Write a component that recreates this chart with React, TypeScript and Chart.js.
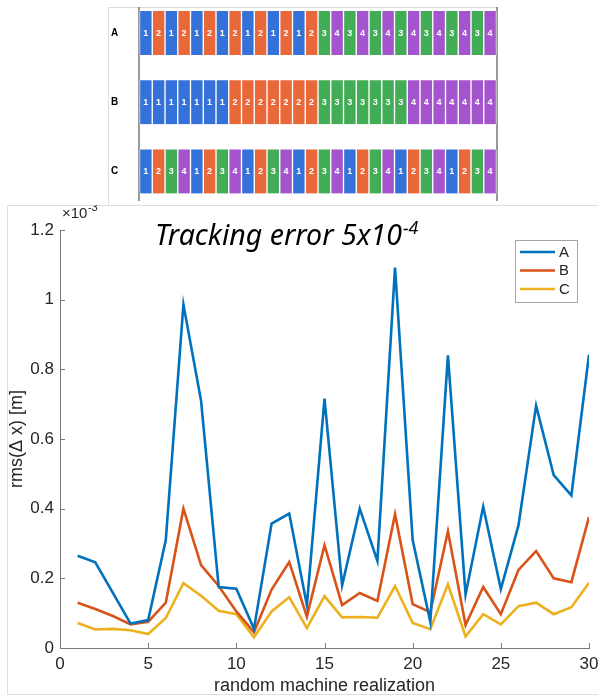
import React, { useEffect, useRef } from 'react';
import { Chart, registerables } from 'chart.js';

Chart.register(...registerables);

// ---------- top schematic data ----------
const rowLabels = ['A', 'B', 'C'];
const rowA = [1, 2, 1, 2, 1, 2, 1, 2, 1, 2, 1, 2, 1, 2, 3, 4, 3, 4, 3, 4, 3, 4, 3, 4, 3, 4, 3, 4];
const rowB = [1, 1, 1, 1, 1, 1, 1, 2, 2, 2, 2, 2, 2, 2, 3, 3, 3, 3, 3, 3, 3, 4, 4, 4, 4, 4, 4, 4];
const rowC = [1, 2, 3, 4, 1, 2, 3, 4, 1, 2, 3, 4, 1, 2, 3, 4, 1, 2, 3, 4, 1, 2, 3, 4, 1, 2, 3, 4];
const groupColors: Record<number, string> = { 1: '#3471d9', 2: '#e8683a', 3: '#43ac57', 4: '#a455cd' };

// ---------- line chart data ----------
const realization = [1, 2, 3, 4, 5, 6, 7, 8, 9, 10, 11, 12, 13, 14, 15, 16, 17, 18, 19, 20, 21, 22, 23, 24, 25, 26, 27, 28, 29, 30];
const seriesA = [0.265e-3, 0.246e-3, 0.158e-3, 0.070e-3, 0.080e-3, 0.310e-3, 0.986e-3, 0.710e-3, 0.175e-3, 0.170e-3, 0.055e-3, 0.357e-3, 0.386e-3, 0.123e-3, 0.716e-3, 0.180e-3, 0.400e-3, 0.250e-3, 1.092e-3, 0.310e-3, 0.075e-3, 0.840e-3, 0.153e-3, 0.406e-3, 0.169e-3, 0.352e-3, 0.696e-3, 0.496e-3, 0.438e-3, 0.842e-3];
const seriesB = [0.130e-3, 0.112e-3, 0.092e-3, 0.068e-3, 0.075e-3, 0.130e-3, 0.400e-3, 0.238e-3, 0.178e-3, 0.105e-3, 0.045e-3, 0.168e-3, 0.247e-3, 0.090e-3, 0.295e-3, 0.123e-3, 0.158e-3, 0.135e-3, 0.384e-3, 0.126e-3, 0.103e-3, 0.335e-3, 0.066e-3, 0.175e-3, 0.097e-3, 0.224e-3, 0.278e-3, 0.200e-3, 0.189e-3, 0.376e-3];
const seriesC = [0.072e-3, 0.053e-3, 0.055e-3, 0.051e-3, 0.040e-3, 0.086e-3, 0.186e-3, 0.150e-3, 0.107e-3, 0.097e-3, 0.031e-3, 0.105e-3, 0.146e-3, 0.057e-3, 0.149e-3, 0.088e-3, 0.089e-3, 0.087e-3, 0.178e-3, 0.072e-3, 0.054e-3, 0.183e-3, 0.033e-3, 0.097e-3, 0.068e-3, 0.120e-3, 0.130e-3, 0.097e-3, 0.117e-3, 0.187e-3];
const seriesLabels = ['A', 'B', 'C'];
const seriesColors = ['#0072BD', '#D95319', '#EDB120'];
const xTicks = { min: 0, max: 30, step: 5 };
const yTicks = { min: 0, max: 1.2e-3, step: 0.2e-3 };

const titleMain = 'Tracking error 5x10';
const titleSup = '-4';
const xTitle = 'random machine realization';
const yTitle = 'rms(\u0394 x) [m]';

const FONT = '"Liberation Sans", Arial, Helvetica, sans-serif';
const TXT = '#262626';
const AXIS = '#7a7a7a';

const TOP_OFFSET = -20;

export default function App() {
  const topRef = useRef<HTMLCanvasElement | null>(null);
  const botRef = useRef<HTMLCanvasElement | null>(null);

  useEffect(() => {
    const rows = [rowA, rowB, rowC];
    const topDatasets = rowA.map((_, i) => ({
      label: 'cell' + i,
      data: [1, 1, 1],
      backgroundColor: rows.map((r) => groupColors[r[i]]),
      borderColor: '#ffffff',
      borderWidth: { left: 1, right: 1, top: 0, bottom: 0 },
      borderSkipped: false as const,
      barThickness: 44,
    }));

    const cellLabelPlugin = {
      id: 'cellLabels',
      beforeDatasetsDraw(chart: any) {
        const { ctx, chartArea } = chart;
        ctx.save();
        ctx.strokeStyle = '#555555';
        ctx.lineWidth = 1.2;
        const y0 = 7 - TOP_OFFSET;
        const y1 = 201 - TOP_OFFSET;
        [chartArea.left - 0.5, chartArea.right + 0.5].forEach((x: number) => {
          ctx.beginPath();
          ctx.moveTo(x, y0);
          ctx.lineTo(x, y1);
          ctx.stroke();
        });
        ctx.restore();
      },
      afterDatasetsDraw(chart: any) {
        const { ctx } = chart;
        ctx.save();
        ctx.fillStyle = '#ffffff';
        ctx.font = `bold 9px ${FONT}`;
        ctx.textAlign = 'center';
        ctx.textBaseline = 'middle';
        chart.data.datasets.forEach((_: any, i: number) => {
          const meta = chart.getDatasetMeta(i);
          meta.data.forEach((el: any, j: number) => {
            const p = el.getProps(['x', 'y', 'base'], true);
            ctx.fillText(String(rows[j][i]), (p.x + p.base) / 2, p.y + 0.5);
          });
        });
        ctx.restore();
      },
    };

    const topChart = new Chart(topRef.current as HTMLCanvasElement, {
      type: 'bar',
      data: { labels: rowLabels, datasets: topDatasets as any },
      options: {
        indexAxis: 'y',
        animation: false,
        responsive: false,
        devicePixelRatio: 1,
        layout: { padding: { top: 18.5, bottom: 2, left: 111, right: 101.5 } },
        plugins: { legend: { display: false }, tooltip: { enabled: false }, title: { display: false } },
        scales: {
          x: { type: 'linear', stacked: true, min: 0, max: 28, display: false },
          y: {
            type: 'category',
            stacked: true,
            grid: { display: false, drawTicks: false },
            border: { display: false },
            ticks: { crossAlign: 'far', color: '#000000', font: { family: FONT, size: 10, weight: 'bold' }, padding: 0 },
            afterFit: (s: any) => { s.width = 28.5; },
          },
        },
      },
      plugins: [cellLabelPlugin],
    });

    // ---------- bottom line chart ----------
    const decorPlugin = {
      id: 'decor',
      afterDraw(chart: any) {
        const { ctx, chartArea, scales } = chart;
        const { x, y } = scales;
        ctx.save();
        // inward ticks
        ctx.strokeStyle = AXIS;
        ctx.lineWidth = 1;
        y.ticks.forEach((t: any) => {
          if (t.value === 0) return;
          const py = Math.round(y.getPixelForValue(t.value)) + 0.5;
          ctx.beginPath();
          ctx.moveTo(chartArea.left, py);
          ctx.lineTo(chartArea.left + 5, py);
          ctx.stroke();
        });
        x.ticks.forEach((t: any) => {
          if (t.value === 0) return;
          const px = Math.round(x.getPixelForValue(t.value)) + 0.5;
          ctx.beginPath();
          ctx.moveTo(px, chartArea.bottom);
          ctx.lineTo(px, chartArea.bottom - 5);
          ctx.stroke();
        });
        // exponent label
        ctx.fillStyle = TXT;
        ctx.textAlign = 'left';
        ctx.textBaseline = 'alphabetic';
        ctx.font = `15px ${FONT}`;
        const ex = chartArea.left + 2;
        const ey = chartArea.top - 12;
        ctx.fillText('\u00d710', ex, ey);
        const w10 = ctx.measureText('\u00d710').width;
        ctx.font = `11px ${FONT}`;
        ctx.fillText('-3', ex + w10 + 0.5, ey - 7);
        // title with superscript
        ctx.font = `italic 26px "Noto Sans", ${FONT}`;
        const tw = ctx.measureText(titleMain).width;
        const scale = 247 / tw;
        const fs = 26 * scale;
        ctx.font = `italic ${fs}px "Noto Sans", ${FONT}`;
        const tx = 155;
        const ty = 245 - 205;
        ctx.fillStyle = '#000000';
        ctx.fillText(titleMain, tx, ty);
        const tw2 = ctx.measureText(titleMain).width;
        ctx.font = `italic ${fs * 0.62}px "Noto Sans", ${FONT}`;
        ctx.fillText(titleSup, tx + tw2 + 1, ty - fs * 0.38);
        // legend
        const lx1 = chartArea.right - 74;
        const lx2 = chartArea.right - 12;
        const ly1 = chartArea.top + 10;
        const ly2 = ly1 + 62;
        ctx.fillStyle = '#ffffff';
        ctx.fillRect(lx1, ly1, lx2 - lx1, ly2 - ly1);
        ctx.strokeStyle = '#a6a6a6';
        ctx.lineWidth = 1;
        ctx.strokeRect(lx1 + 0.5, ly1 + 0.5, lx2 - lx1, ly2 - ly1);
        ctx.font = `15px ${FONT}`;
        ctx.textBaseline = 'middle';
        chart.data.datasets.forEach((ds: any, i: number) => {
          const yy = ly1 + 12 + i * 18.5;
          ctx.strokeStyle = ds.borderColor;
          ctx.lineWidth = 2.5;
          ctx.beginPath();
          ctx.moveTo(lx1 + 5, yy);
          ctx.lineTo(lx1 + 40, yy);
          ctx.stroke();
          ctx.fillStyle = TXT;
          ctx.fillText(ds.label, lx1 + 44, yy + 0.5);
        });
        ctx.restore();
      },
    };

    const mk = (vals: number[]) => realization.map((r, i) => ({ x: r, y: vals[i] }));
    const all = [seriesA, seriesB, seriesC];

    const botChart = new Chart(botRef.current as HTMLCanvasElement, {
      type: 'line',
      data: {
        datasets: all.map((vals, i) => ({
          label: seriesLabels[i],
          data: mk(vals),
          borderColor: seriesColors[i],
          backgroundColor: seriesColors[i],
          borderWidth: 2.6,
          pointRadius: 0,
          tension: 0,
          fill: false,
        })),
      },
      options: {
        animation: false,
        responsive: false,
        devicePixelRatio: 1,
        layout: { padding: { top: 25, right: 9, left: 0, bottom: 0 } },
        plugins: { legend: { display: false }, tooltip: { enabled: false }, title: { display: false } },
        scales: {
          x: {
            type: 'linear',
            min: xTicks.min,
            max: xTicks.max,
            ticks: { stepSize: xTicks.step, color: TXT, font: { family: FONT, size: 17 }, padding: 6 },
            grid: { display: false, drawTicks: false },
            border: { display: true, color: AXIS, width: 1 },
            title: { display: true, text: xTitle, color: TXT, font: { family: FONT, size: 18 }, padding: { top: 0, bottom: 0 } },
            afterFit: (s: any) => { s.height = 49; s.paddingRight = 0; s.paddingLeft = 0; },
          },
          y: {
            type: 'linear',
            min: yTicks.min,
            max: yTicks.max,
            ticks: {
              stepSize: yTicks.step,
              color: TXT,
              font: { family: FONT, size: 17 },
              padding: 6,
              callback: (v: any) => String(Math.round(Number(v) * 1e4) / 10),
            },
            grid: { display: false, drawTicks: false },
            border: { display: true, color: AXIS, width: 1 },
            title: { display: true, text: yTitle, color: TXT, font: { family: FONT, size: 18 }, padding: { top: 6, bottom: 0 } },
            afterFit: (s: any) => { s.width = 60; s.paddingTop = 0; s.paddingBottom = 0; },
          },
        },
      },
      plugins: [decorPlugin],
    });

    return () => {
      topChart.destroy();
      botChart.destroy();
    };
  }, []);

  return (
    <div style={{ position: 'fixed', left: 0, top: 0, width: 598, height: 697, overflow: 'hidden', background: '#ffffff' }}>
      <div style={{ position: 'absolute', left: 108, top: 7, width: 389, height: 198, borderLeft: '1px solid #dedede', borderTop: '1px solid #dedede' }} />
      <div style={{ position: 'absolute', left: 7, top: 205, width: 620, height: 488, border: '1px solid #dedede' }} />
      <canvas ref={topRef} width={598} height={232} style={{ position: 'absolute', left: 0, top: TOP_OFFSET, width: 598, height: 232 }} />
      <canvas ref={botRef} width={598} height={492} style={{ position: 'absolute', left: 0, top: 205, width: 598, height: 492 }} />
    </div>
  );
}
